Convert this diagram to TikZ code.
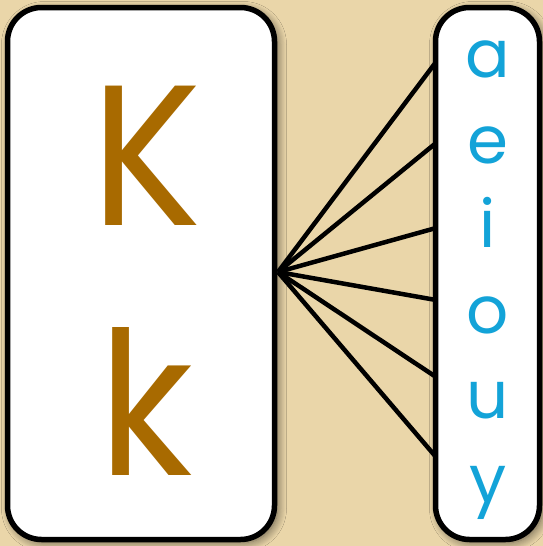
\documentclass[tikz,border=0pt]{standalone}
\usepackage{fontspec}
\setmainfont{Poppins}
\usetikzlibrary{shadows.blur}
\definecolor{bgtan}{HTML}{EAD6A9}
\definecolor{kbrown}{HTML}{A86A00}
\definecolor{vcyan}{HTML}{13A3D8}
\tikzset{
  card/.style={draw=black, line width=5.5pt, fill=white, rounded corners=34pt,
    blur shadow={shadow xshift=3pt, shadow yshift=-3pt, shadow blur radius=9pt, shadow blur steps=10, shadow opacity=60}},
  spoke/.style={draw=black, line width=4.5pt},
  bigletter/.style={text=kbrown, font=\fontsize{200}{200}\selectfont, anchor=base, inner sep=0pt},
  vowel/.style={text=vcyan, font=\fontsize{66}{66}\selectfont, anchor=base, inner sep=0pt},
}
\begin{document}
\begin{tikzpicture}[x=1pt,y=-1pt]
\fill[bgtan] (0,0) rectangle (543,546);
\useasboundingbox (0,0) rectangle (543,546);
% spokes
\coordinate (hub) at (278,272);
\coordinate (ea) at (436,62);
\coordinate (ee) at (436,143);
\coordinate (ei) at (436,228);
\coordinate (eo) at (436,300);
\coordinate (eu) at (436,377);
\coordinate (ey) at (436,457);
\foreach \e in {ea,ee,ei,eo,eu,ey} \draw[spoke] (hub) -- (\e);
% cards
\node[card, minimum width=267pt, minimum height=532pt, inner sep=0pt] (left) at (141,273.5) {};
\node[card, minimum width=104pt, minimum height=532pt, inner sep=0pt] (right) at (487.5,273.5) {};
% letters
\node[bigletter, xscale=0.92] (K) at (147,225) {K};
\node[bigletter, xscale=0.92] (k) at (146,475) {k};
\node[vowel] (a) at (488,77) {a};
\node[vowel] (e) at (488,163) {e};
\node[vowel] (i) at (488,247) {i};
\node[vowel] (o) at (488,333) {o};
\node[vowel] (u) at (488,418) {u};
\node[vowel] (y) at (488,502) {y};
\end{tikzpicture}
\end{document}
